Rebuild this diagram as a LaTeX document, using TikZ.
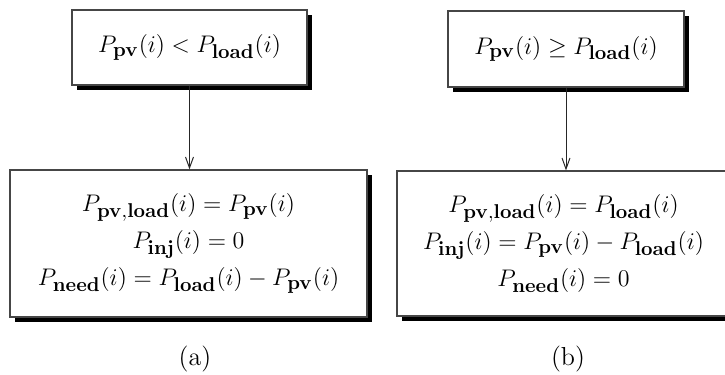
\documentclass[tikz,border=0pt]{standalone}
\usepackage{amsmath}
\usepackage{tikz}
\usetikzlibrary{arrows.meta, shadows, positioning}
\definecolor{boxgray}{RGB}{70, 70, 70}
\DeclareMathSizes{13}{13}{10.4}{8.3}

\tikzset{
  condbox/.style={draw=boxgray, line width=0.6pt, fill=white, align=center, inner sep=0pt,
    drop shadow={shadow xshift=2.4pt, shadow yshift=-2.4pt, fill=black, opacity=1}},
  flowarrow/.style={draw=black!85, line width=0.5pt, -{Straight Barb[length=5.5pt, width=4pt]}},
}

\begin{document}
\begin{tikzpicture}[x=0.5pt, y=-0.5pt, font=\fontsize{13}{18.5}\selectfont]
    \useasboundingbox (0,0) rectangle (725,375);

    % case (a)
    \node[condbox, minimum width=117.5pt, minimum height=37.5pt] (acond) at (189.5,47.5)
        {$P_{\mathbf{pv}}(i) < P_{\mathbf{load}}(i)$};
    \node[condbox, minimum width=178.5pt, minimum height=73.5pt] (ares) at (188.5,243.5)
        {$P_{\mathbf{pv,load}}(i) = P_{\mathbf{pv}}(i)$\\
         $P_{\mathbf{inj}}(i) = 0$\\
         $P_{\mathbf{need}}(i) = P_{\mathbf{load}}(i) - P_{\mathbf{pv}}(i)$};
    \draw[flowarrow] (acond.south) -- (acond.south |- ares.north);
    \node (alabel) at (195,359) {(a)};

    % case (b)
    \node[condbox, minimum width=118pt, minimum height=38pt] (bcond) at (566,49)
        {$P_{\mathbf{pv}}(i) \geq P_{\mathbf{load}}(i)$};
    \node[condbox, minimum width=166.5pt, minimum height=72.5pt] (bres) at (563.5,243.5)
        {$P_{\mathbf{pv,load}}(i) = P_{\mathbf{load}}(i)$\\
         $P_{\mathbf{inj}}(i) = P_{\mathbf{pv}}(i) - P_{\mathbf{load}}(i)$\\
         $P_{\mathbf{need}}(i) = 0$};
    \draw[flowarrow] (bcond.south) -- (bcond.south |- bres.north);
    \node (blabel) at (568,359) {(b)};
\end{tikzpicture}
\end{document}
